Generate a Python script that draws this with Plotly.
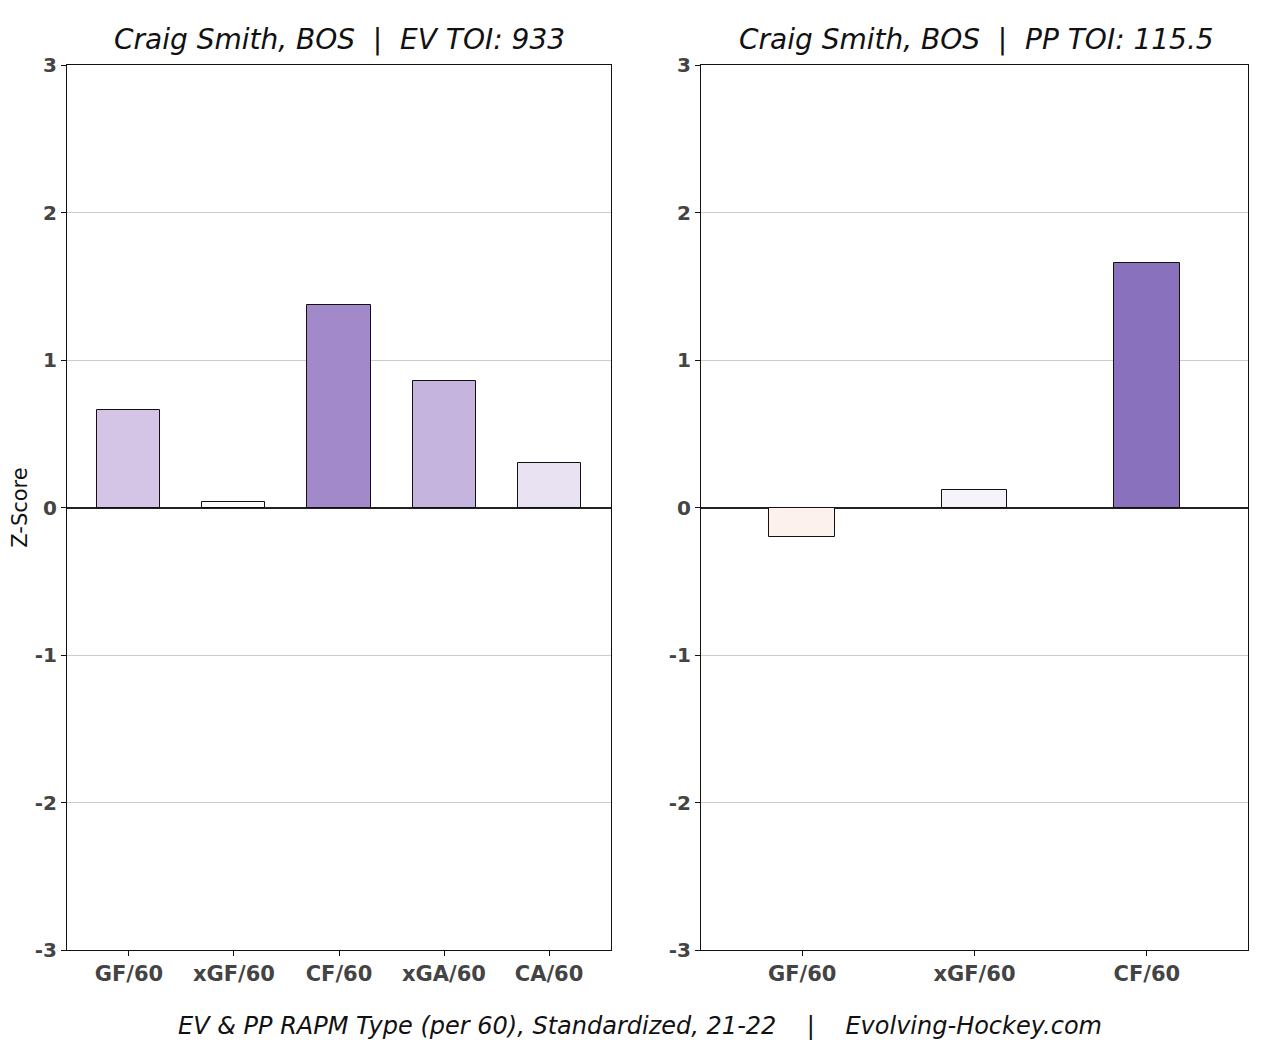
import plotly.graph_objects as go

ev_cats = ["GF/60", "xGF/60", "CF/60", "xGA/60", "CA/60"]
ev_vals = [0.66, 0.04, 1.37, 0.86, 0.30]
ev_colors = ["#d4c4e6", "#fbfafd", "#a28aca", "#c4b4de", "#e9e2f3"]

pp_cats = ["GF/60", "xGF/60", "CF/60"]
pp_vals = [-0.20, 0.12, 1.66]
pp_colors = ["#fdf1ee", "#f6f4fa", "#8a71bd"]

y_ticks = [-3, -2, -1, 0, 1, 2, 3]

ev_title = "Craig Smith, BOS  |  EV TOI: 933"
pp_title = "Craig Smith, BOS  |  PP TOI: 115.5"
footer = "EV & PP RAPM Type (per 60), Standardized, 21-22    |    Evolving-Hockey.com"

W, H = 1267, 1042
L, R, T, B = 59, 27, 57, 100
PW = W - L - R
PH = H - T - B

fig = go.Figure()
fig.add_trace(go.Bar(x=list(range(len(ev_cats))), y=ev_vals, width=0.6,
                     marker=dict(color=ev_colors, line=dict(color="#111111", width=1)),
                     xaxis="x", yaxis="y", showlegend=False))
fig.add_trace(go.Bar(x=list(range(len(pp_cats))), y=pp_vals, width=0.38,
                     marker=dict(color=pp_colors, line=dict(color="#111111", width=1)),
                     xaxis="x2", yaxis="y2", showlegend=False))

tickfont = dict(family="DejaVu Sans", size=20, color="#444444", weight="bold")
xtickfont = dict(family="DejaVu Sans", size=21, color="#444444", weight="bold")

common_y = dict(range=[-3, 3], tickvals=y_ticks, ticktext=[str(v) for v in y_ticks],
                showgrid=True, gridcolor="#cccccc", gridwidth=1,
                zeroline=True, zerolinecolor="#222222", zerolinewidth=2,
                showline=True, linecolor="#111111", linewidth=1.3, mirror=True,
                ticks="outside", ticklen=5, tickcolor="#111111", tickfont=tickfont,
                automargin=False)
common_x = dict(showgrid=False, zeroline=False,
                showline=True, linecolor="#111111", linewidth=1.3, mirror=True,
                ticks="outside", ticklen=5, tickcolor="#111111", tickfont=xtickfont,
                automargin=False)

fig.update_layout(
    width=W, height=H,
    margin=dict(l=L, r=R, t=T, b=B, autoexpand=False),
    paper_bgcolor="white", plot_bgcolor="white",
    bargap=0,
    xaxis=dict(domain=[0, 544/PW], range=[-0.59, 4.59],
               tickvals=list(range(len(ev_cats))), ticktext=ev_cats, **common_x),
    yaxis=dict(domain=[0, 1], anchor="x",
               title=dict(text="Z-Score", font=dict(family="DejaVu Sans", size=21, color="#111111"), standoff=8),
               **common_y),
    xaxis2=dict(domain=[(693-L)/PW, 1], range=[-0.587, 2.587], anchor="y2",
                tickvals=list(range(len(pp_cats))), ticktext=pp_cats, **common_x),
    yaxis2=dict(domain=[0, 1], anchor="x2", **common_y),
    annotations=[
        dict(text=ev_title, x=(331-L)/PW, y=1+(T-32)/PH, xref="paper", yref="paper",
             showarrow=False, xanchor="center", yanchor="middle",
             font=dict(family="DejaVu Sans", size=28, color="#111111", style="italic")),
        dict(text=pp_title, x=(968-L)/PW, y=1+(T-32)/PH, xref="paper", yref="paper",
             showarrow=False, xanchor="center", yanchor="middle",
             font=dict(family="DejaVu Sans", size=28, color="#111111", style="italic")),
        dict(text=footer, x=(632-L)/PW, y=-(1018-(H-B))/PH, xref="paper", yref="paper",
             showarrow=False, xanchor="center", yanchor="middle",
             font=dict(family="DejaVu Sans", size=24, color="#111111", style="italic")),
    ],
)

fig.write_html("out.html")
